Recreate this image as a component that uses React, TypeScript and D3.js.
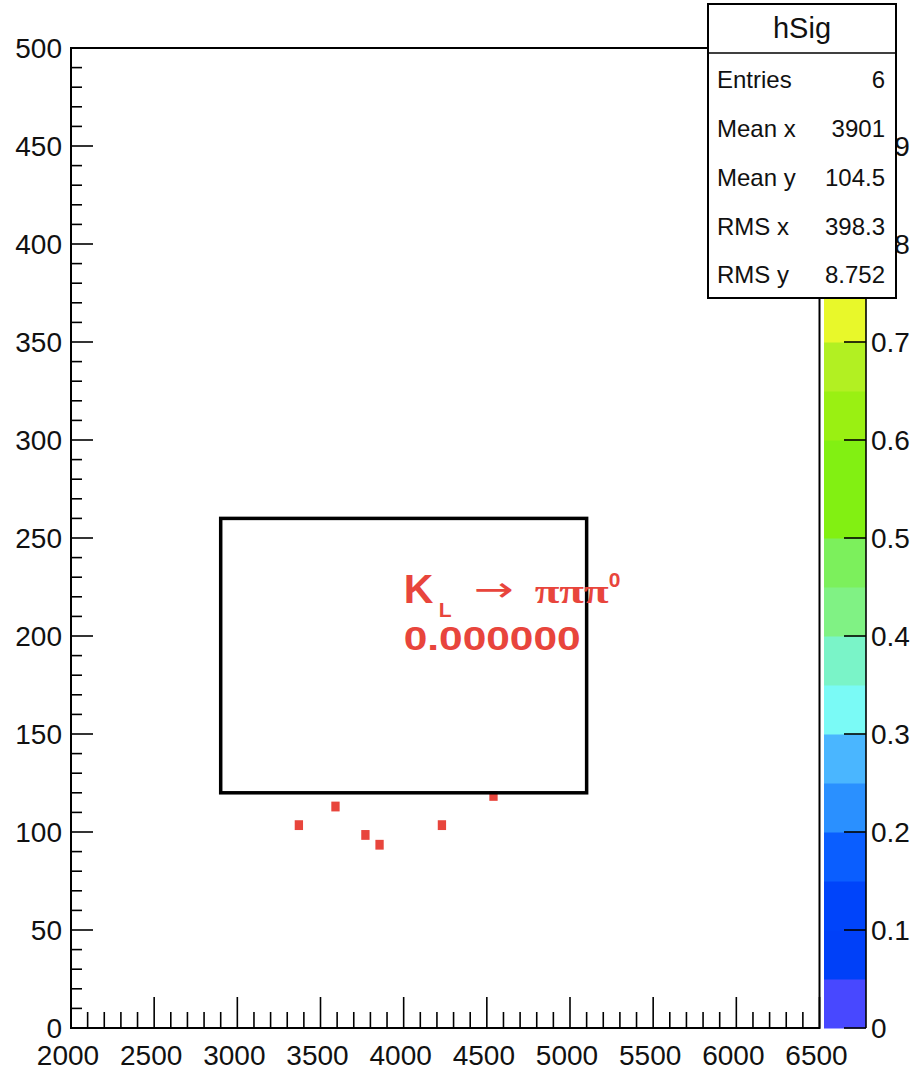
import React, { useEffect, useRef } from 'react';
import * as d3 from 'd3';

// event positions (x, y) of the six filled bins
const pointX = [3370, 3590, 3770, 3855, 4230, 4540];
const pointY = [103.5, 113, 98.5, 93.5, 103.5, 118.4];

const xTicks = [2000, 2500, 3000, 3500, 4000, 4500, 5000, 5500, 6000, 6500];
const yTicks = [0, 50, 100, 150, 200, 250, 300, 350, 400, 450, 500];
const zTicks = [0, 0.1, 0.2, 0.3, 0.4, 0.5, 0.6, 0.7, 0.8, 0.9, 1];

// colour palette bands, 0.05 wide each, bottom to top
const paletteColors = [
  '#4848ff', '#0040f8', '#0044fa', '#0a5eff', '#2a90ff',
  '#4ab6ff', '#7afaf6', '#7af4c8', '#80f284', '#7cf05c',
  '#82f012', '#82f012', '#9af012', '#b2f022', '#e8f82a',
  '#f8e020', '#f8b020', '#f88020', '#f85020', '#f82020',
];

const statsLabels = ['Entries', 'Mean x', 'Mean y', 'RMS x', 'RMS y'];
const statsValues = ['6', '3901', '104.5', '398.3', '8.752'];

// TBox drawn over the histogram, in data coordinates
const boxX = [2900, 5100];
const boxY = [120, 260];

const W = 913;
const H = 1071;
const FRAME = { left: 71, right: 819.5, top: 48, bottom: 1028 };
const RED = '#e8453c';
const FONT = '"Liberation Sans", Arial, Helvetica, sans-serif';

const App: React.FC = () => {
  const ref = useRef<SVGSVGElement>(null);

  useEffect(() => {
    if (!ref.current) return;
    const svg = d3.select(ref.current);
    svg.selectAll('*').remove();

    const x = d3.scaleLinear().domain([2000, 6500]).range([FRAME.left, FRAME.right]);
    const y = d3.scaleLinear().domain([0, 500]).range([FRAME.bottom, FRAME.top]);
    const z = d3.scaleLinear().domain([0, 1]).range([FRAME.bottom, FRAME.top]);

    svg.append('rect').attr('width', W).attr('height', H).attr('fill', 'white');

    // frame
    svg
      .append('rect')
      .attr('x', FRAME.left)
      .attr('y', FRAME.top)
      .attr('width', FRAME.right - FRAME.left)
      .attr('height', FRAME.bottom - FRAME.top)
      .attr('fill', 'none')
      .attr('stroke', '#000')
      .attr('stroke-width', 2);

    // x axis ticks (inward, upwards)
    const xMinor = d3.range(2000, 6501, 100);
    svg
      .append('g')
      .selectAll('line')
      .data(xMinor)
      .join('line')
      .attr('x1', d => x(d))
      .attr('x2', d => x(d))
      .attr('y1', FRAME.bottom)
      .attr('y2', d => FRAME.bottom - (d % 500 === 0 ? 31 : 16))
      .attr('stroke', '#000')
      .attr('stroke-width', 1.6);

    svg
      .append('g')
      .selectAll('text')
      .data(xTicks)
      .join('text')
      .attr('x', d => x(d) - 3)
      .attr('y', 1065)
      .attr('text-anchor', 'middle')
      .style('font-family', FONT)
      .style('font-size', '28px')
      .style('fill', '#111')
      .text(d => d);

    // y axis ticks (inward, to the right)
    const yMinor = d3.range(0, 501, 10);
    svg
      .append('g')
      .selectAll('line')
      .data(yMinor)
      .join('line')
      .attr('x1', FRAME.left)
      .attr('x2', d => FRAME.left + (d % 50 === 0 ? 22 : 11))
      .attr('y1', d => y(d))
      .attr('y2', d => y(d))
      .attr('stroke', '#000')
      .attr('stroke-width', 1.6);

    svg
      .append('g')
      .selectAll('text')
      .data(yTicks)
      .join('text')
      .attr('x', 62)
      .attr('y', d => y(d))
      .attr('dy', '0.35em')
      .attr('text-anchor', 'end')
      .style('font-family', FONT)
      .style('font-size', '28px')
      .style('fill', '#111')
      .text(d => d);

    // filled bins
    svg
      .append('g')
      .selectAll('rect')
      .data(pointX.map((px, i) => ({ px, py: pointY[i] })))
      .join('rect')
      .attr('x', d => x(d.px - 25))
      .attr('width', d => x(d.px + 25) - x(d.px - 25))
      .attr('y', d => y(d.py + 2.5))
      .attr('height', d => y(d.py - 2.5) - y(d.py + 2.5))
      .attr('fill', RED);

    // TBox
    svg
      .append('rect')
      .attr('x', x(boxX[0]))
      .attr('y', y(boxY[1]))
      .attr('width', x(boxX[1]) - x(boxX[0]))
      .attr('height', y(boxY[0]) - y(boxY[1]))
      .attr('fill', 'none')
      .attr('stroke', '#000')
      .attr('stroke-width', 3.5);

    // label K_L -> pi pi pi0
    const tx = x(4000);
    const ty = y(217);
    const lab = svg.append('g').style('font-family', FONT).style('fill', RED);
    lab.append('text').attr('x', tx).attr('y', ty).style('font-size', '41px').style('font-weight', 'bold').text('K');
    lab.append('text').attr('x', tx + 35).attr('y', ty + 14).style('font-size', '21px').style('font-weight', 'bold').text('L');
    lab
      .append('text')
      .attr('x', tx + 70)
      .attr('y', ty - 2)
      .attr('textLength', 40)
      .attr('lengthAdjust', 'spacingAndGlyphs')
      .style('font-family', '"DejaVu Sans", sans-serif')
      .style('font-size', '34px')
      .text('→');
    lab
      .append('text')
      .attr('x', tx + 131)
      .attr('y', ty)
      .attr('textLength', 74)
      .attr('lengthAdjust', 'spacingAndGlyphs')
      .style('font-family', '"Liberation Serif", serif')
      .style('font-size', '34px')
      .style('font-weight', 'bold')
      .text('πππ');
    lab.append('text').attr('x', tx + 205).attr('y', ty - 16).style('font-size', '21px').style('font-weight', 'bold').text('0');
    lab
      .append('text')
      .attr('x', tx)
      .attr('y', y(193))
      .attr('textLength', 177)
      .attr('lengthAdjust', 'spacingAndGlyphs')
      .style('font-size', '34px')
      .style('font-weight', 'bold')
      .text('0.000000');

    // colour palette
    const band = 0.05;
    svg
      .append('g')
      .selectAll('rect')
      .data(paletteColors)
      .join('rect')
      .attr('x', 824)
      .attr('width', 866 - 824)
      .attr('y', (_d, i) => z((i + 1) * band))
      .attr('height', (_d, i) => z(i * band) - z((i + 1) * band) + 0.5)
      .attr('fill', d => d);
    svg
      .append('line')
      .attr('x1', 866)
      .attr('x2', 866)
      .attr('y1', FRAME.top)
      .attr('y2', FRAME.bottom)
      .attr('stroke', '#000')
      .attr('stroke-width', 1.6);
    svg
      .append('g')
      .selectAll('line')
      .data(zTicks)
      .join('line')
      .attr('x1', 844)
      .attr('x2', 866)
      .attr('y1', d => z(d))
      .attr('y2', d => z(d))
      .attr('stroke', '#000')
      .attr('stroke-width', 1.6);
    svg
      .append('g')
      .selectAll('text')
      .data(zTicks)
      .join('text')
      .attr('x', 871)
      .attr('y', d => z(d))
      .attr('dy', '0.35em')
      .style('font-family', FONT)
      .style('font-size', '28px')
      .style('fill', '#111')
      .text(d => d3.format('~g')(d));

    // stats box
    const sb = svg.append('g');
    sb.append('rect')
      .attr('x', 708)
      .attr('y', 4)
      .attr('width', 188)
      .attr('height', 294)
      .attr('fill', 'white')
      .attr('stroke', '#000')
      .attr('stroke-width', 2);
    sb.append('line').attr('x1', 708).attr('x2', 896).attr('y1', 53).attr('y2', 53).attr('stroke', '#000').attr('stroke-width', 1.6);
    sb.append('text')
      .attr('x', 802)
      .attr('y', 38)
      .attr('text-anchor', 'middle')
      .style('font-family', FONT)
      .style('font-size', '29px')
      .style('fill', '#111')
      .text('hSig');
    const rowY = d3.scaleLinear().domain([0, 4]).range([80, 275]);
    sb.selectAll('text.lbl')
      .data(statsLabels)
      .join('text')
      .attr('class', 'lbl')
      .attr('x', 717)
      .attr('y', (_d, i) => rowY(i))
      .attr('dy', '0.35em')
      .style('font-family', FONT)
      .style('font-size', '24px')
      .style('fill', '#111')
      .text(d => d);
    sb.selectAll('text.val')
      .data(statsValues)
      .join('text')
      .attr('class', 'val')
      .attr('x', 885)
      .attr('y', (_d, i) => rowY(i))
      .attr('dy', '0.35em')
      .attr('text-anchor', 'end')
      .style('font-family', FONT)
      .style('font-size', '24px')
      .style('fill', '#111')
      .text(d => d);
  }, []);

  return (
    <svg
      ref={ref}
      width={W}
      height={H}
      style={{ position: 'absolute', left: 0, top: 0, display: 'block' }}
    />
  );
};

export default App;
